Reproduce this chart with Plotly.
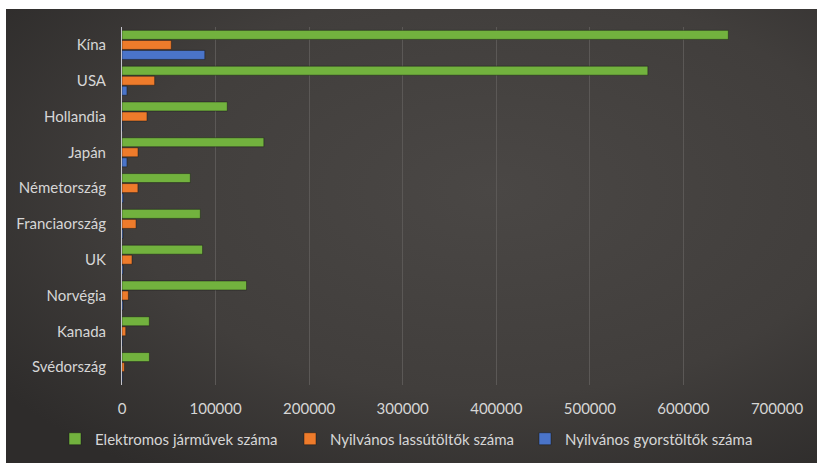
import base64
import plotly.graph_objects as go

categories = ["Kína", "USA", "Hollandia", "Japán", "Németország",
              "Franciaország", "UK", "Norvégia", "Kanada", "Svédország"]
ev_stock = [648000, 562000, 112500, 151600, 73000, 83700, 86100, 133100, 29200, 29300]
slow_chargers = [52700, 34900, 26700, 17100, 17000, 15000, 10700, 6800, 4000, 2500]
fast_chargers = [88500, 5300, 600, 5300, 1400, 1000, 1100, 1000, 500, 600]
series_names = ["Elektromos járművek száma", "Nyilvános lassútöltők száma",
                "Nyilvános gyorstöltők száma"]
x_ticks = [0, 100000, 200000, 300000, 400000, 500000, 600000, 700000]

colors = ["#72B23E", "#EE7B2B", "#4A74C9"]
W, H = 817, 463
L, R, T, B = 122, 40, 27, 78
pw, ph = W - L - R, H - T - B

fig = go.Figure()
for name, vals, col in zip(series_names, [ev_stock, slow_chargers, fast_chargers], colors):
    fig.add_trace(go.Bar(
        y=categories, x=vals, name=name, orientation="h",
        marker=dict(color=col, line=dict(color="rgba(20,20,20,0.45)", width=1)),
    ))

svg = '''<svg xmlns="http://www.w3.org/2000/svg" width="811" height="454" preserveAspectRatio="none">
<defs><radialGradient id="g" cx="0.6" cy="0.4" r="0.75">
<stop offset="0" stop-color="#4a4745"/><stop offset="0.6" stop-color="#413e3c"/>
<stop offset="1" stop-color="#2e2c2b"/></radialGradient></defs>
<rect width="811" height="454" fill="url(#g)"/></svg>'''
src = "data:image/svg+xml;base64," + base64.b64encode(svg.encode()).decode()

x0p = (6 - L) / pw
x1p = (W - L) / pw
y0p = (H - B - 9) / ph
y1p = (H - B - H) / ph
fig.add_layout_image(dict(source=src, xref="paper", yref="paper", x=x0p, y=y0p,
                          sizex=x1p - x0p, sizey=y0p - y1p, sizing="stretch",
                          xanchor="left", yanchor="top", layer="below"))

fig.update_layout(
    width=W, height=H, margin=dict(l=L, r=R, t=T, b=B, autoexpand=False),
    paper_bgcolor="white", plot_bgcolor="rgba(0,0,0,0)",
    barmode="group", bargap=0.16, bargroupgap=0.1,
    font=dict(family="Lato", size=15, color="#d6d6d6"),
    showlegend=True,
    legend=dict(orientation="h", x=(55 - L) / pw, xanchor="left",
                y=(H - B - 439) / ph, yanchor="middle",
                entrywidth=190, entrywidthmode="pixels",
                font=dict(size=15, color="#d6d6d6"), bgcolor="rgba(0,0,0,0)",
                traceorder="normal"),
    xaxis=dict(range=[0, 700000], tickvals=x_ticks, ticktext=[str(v) for v in x_ticks],
               showgrid=True, gridcolor="#5b5856", gridwidth=1, zeroline=False,
               showline=False, ticks="outside", ticklen=10, tickcolor="rgba(0,0,0,0)",
               automargin=False),
    yaxis=dict(type="category", categoryorder="array", categoryarray=categories,
               autorange="reversed", showline=True, linecolor="#c4c4cc", linewidth=1,
               showgrid=False, ticks="outside", ticklen=12, tickcolor="rgba(0,0,0,0)",
               automargin=False),
)

fig.write_html("out.html", config={"displayModeBar": False},
               post_script="document.body.style.margin='0';")
